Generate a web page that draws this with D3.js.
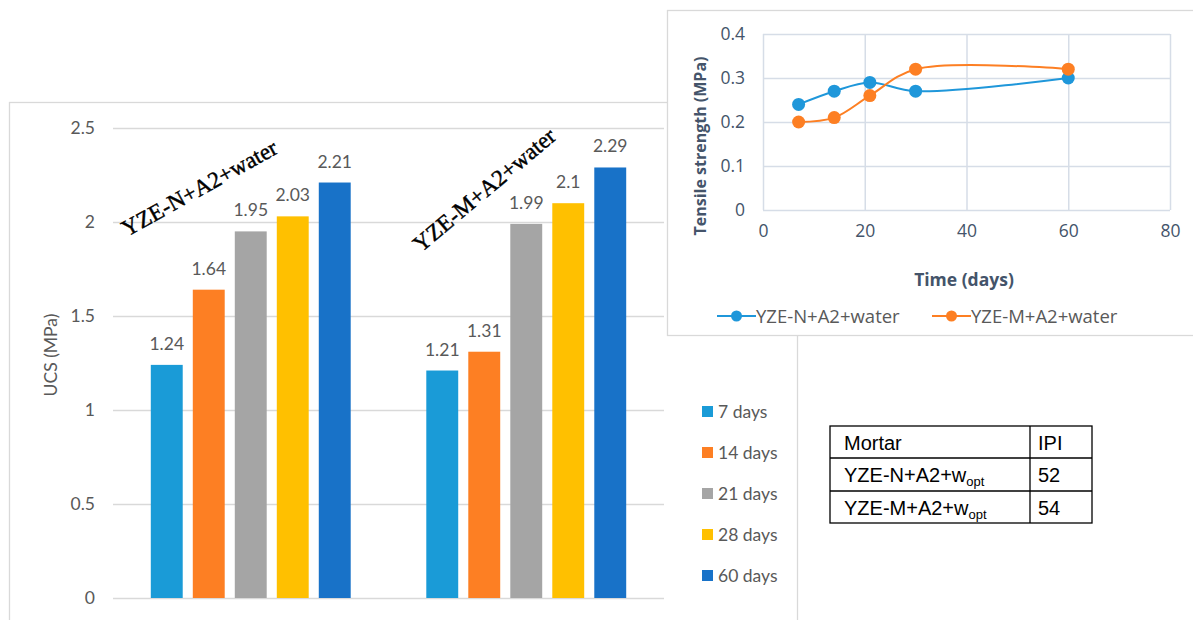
<!DOCTYPE html>
<html><head><meta charset="utf-8">
<script src="https://cdn.jsdelivr.net/npm/d3@7"></script>
<style>
html,body{margin:0;padding:0;background:#fff;overflow:hidden;}
svg{display:block;}
</style></head>
<body>
<svg id="c" width="1193" height="620"></svg>
<script>
// ---------- data ----------
const groups = ["YZE-N+A2+water", "YZE-M+A2+water"];
const ages = ["7 days", "14 days", "21 days", "28 days", "60 days"];
const ucsN = [1.24, 1.64, 1.95, 2.03, 2.21];
const ucsM = [1.21, 1.31, 1.99, 2.1, 2.29];
const ucsTicks = [0, 0.5, 1, 1.5, 2, 2.5];
const ageColors = ["#1a9bd7", "#fd7f23", "#a5a5a5", "#ffc000", "#1872c8"];

const tensileDays = [7, 14, 21, 30, 60];
const tensileN = [0.24, 0.27, 0.29, 0.27, 0.30];
const tensileM = [0.20, 0.21, 0.26, 0.32, 0.32];
const tensileYTicks = [0, 0.1, 0.2, 0.3, 0.4];
const tensileXTicks = [0, 20, 40, 60, 80];
const lineNames = ["YZE-N+A2+water", "YZE-M+A2+water"];
const lineColors = ["#1f97da", "#fd7f23"];

const tableHead = ["Mortar", "IPI"];
const tableMortar = ["YZE-N+A2+w", "YZE-M+A2+w"];
const tableSub = ["opt", "opt"];
const tableIPI = [52, 54];

// ---------- main bar chart ----------
const svg = d3.select("#c");
const main = svg.append("g");

main.append("rect").attr("x", 9.5).attr("y", 102.5).attr("width", 788).attr("height", 540)
  .attr("fill", "#fff").attr("stroke", "#d9d9d9").attr("stroke-width", 1.3);

const y = d3.scaleLinear().domain([0, 2.5]).range([598, 128]);
const x0 = d3.scaleBand().domain(groups).range([113, 664]);
const x1 = d3.scaleBand().domain(ages).range([0, x0.bandwidth()]).paddingInner(0.24).paddingOuter(0.9);

const yAxis = d3.axisLeft(y).tickValues(ucsTicks).tickSize(-(664 - 113)).tickPadding(18)
  .tickFormat(d => String(d));
const gy = main.append("g").attr("transform", "translate(113,0)").call(yAxis);
gy.select(".domain").remove();
gy.selectAll(".tick line").attr("stroke", "#d9d9d9").attr("stroke-width", 1.5);
gy.selectAll(".tick text").attr("fill", "#595959").attr("font-family", "Lato, sans-serif").attr("font-size", 17.5);

main.append("text").attr("transform", "translate(57,355) rotate(-90)").attr("text-anchor", "middle")
  .attr("fill", "#595959").attr("font-family", "Lato, sans-serif").attr("font-size", 17.5).text("UCS (MPa)");

const seriesByGroup = [ucsN, ucsM];
groups.forEach((g, gi) => {
  const gg = main.append("g").attr("transform", `translate(${x0(g)},0)`);
  gg.selectAll("rect").data(seriesByGroup[gi]).join("rect")
    .attr("x", (d, i) => x1(ages[i])).attr("width", x1.bandwidth())
    .attr("y", d => y(d)).attr("height", d => y(0) - y(d))
    .attr("fill", (d, i) => ageColors[i]);
  gg.selectAll("text.v").data(seriesByGroup[gi]).join("text").attr("class", "v")
    .attr("x", (d, i) => x1(ages[i]) + x1.bandwidth() / 2).attr("y", d => y(d) - 15)
    .attr("text-anchor", "middle").attr("fill", "#595959").attr("font-family", "Lato, sans-serif")
    .attr("font-size", 17.5).text(d => String(d));
});

// rotated group annotations
const annPos = [[127, 237, -29], [421, 253, -40]];
groups.forEach((g, gi) => {
  main.append("text").attr("transform", `translate(${annPos[gi][0]},${annPos[gi][1]}) rotate(${annPos[gi][2]})`)
    .attr("font-family", "'Liberation Serif', 'Times New Roman', serif").attr("font-size", 23)
    .attr("fill", "#000").attr("stroke", "#000").attr("stroke-width", 0.45).text(g);
});

// legend
const leg = main.append("g");
ages.forEach((a, i) => {
  const ly = 412 + i * 41;
  leg.append("rect").attr("x", 702).attr("y", ly - 6).attr("width", 11).attr("height", 11).attr("fill", ageColors[i]);
  leg.append("text").attr("x", 718).attr("y", ly + 6).attr("fill", "#595959")
    .attr("font-family", "Lato, sans-serif").attr("font-size", 17.5).text(a);
});

// ---------- inset line chart ----------
const ins = svg.append("g");
ins.append("rect").attr("x", 667.5).attr("y", 10.5).attr("width", 540).attr("height", 325)
  .attr("fill", "#fff").attr("stroke", "#d9d9d9").attr("stroke-width", 1.3);

const tx = d3.scaleLinear().domain([0, 80]).range([763, 1170]);
const ty = d3.scaleLinear().domain([0, 0.4]).range([210, 34]);
const gridCol = "#d6dde7";
const insFont = "'Open Sans', sans-serif";

const gtx = ins.append("g").attr("transform", "translate(0,210)")
  .call(d3.axisBottom(tx).tickValues(tensileXTicks).tickSize(-(210 - 34)).tickPadding(15).tickFormat(d => String(d)));
gtx.select(".domain").remove();
gtx.selectAll(".tick line").attr("stroke", gridCol).attr("stroke-width", 1.5);
gtx.selectAll(".tick text").attr("fill", "#44546a").attr("font-family", insFont).attr("font-size", 17.5);

const gty = ins.append("g").attr("transform", "translate(763,0)")
  .call(d3.axisLeft(ty).tickValues(tensileYTicks).tickSize(-(1170 - 763)).tickPadding(18).tickFormat(d => String(d)));
gty.select(".domain").remove();
gty.selectAll(".tick line").attr("stroke", gridCol).attr("stroke-width", 1.5);
gty.selectAll(".tick text").attr("fill", "#44546a").attr("font-family", insFont).attr("font-size", 17.5);

ins.append("text").attr("transform", "translate(706,146) rotate(-90)").attr("text-anchor", "middle")
  .attr("fill", "#44546a").attr("font-family", insFont).attr("font-weight", "bold")
  .attr("font-size", 16).text("Tensile strength (MPa)");
ins.append("text").attr("x", 964).attr("y", 286).attr("text-anchor", "middle")
  .attr("fill", "#44546a").attr("font-family", insFont).attr("font-weight", "bold")
  .attr("font-size", 17.5).text("Time (days)");

const lineGen = d3.line().x(d => tx(d[0])).y(d => ty(d[1])).curve(d3.curveCatmullRom.alpha(0.5));
[tensileN, tensileM].forEach((vals, si) => {
  const pts = tensileDays.map((d, i) => [d, vals[i]]);
  ins.append("path").attr("d", lineGen(pts)).attr("fill", "none")
    .attr("stroke", lineColors[si]).attr("stroke-width", 2);
  ins.selectAll(null).data(pts).join("circle")
    .attr("cx", d => tx(d[0])).attr("cy", d => ty(d[1])).attr("r", 6.5).attr("fill", lineColors[si]);
});

// inset legend
const legX = [717, 932];
lineNames.forEach((n, i) => {
  ins.append("line").attr("x1", legX[i]).attr("x2", legX[i] + 39).attr("y1", 316).attr("y2", 316)
    .attr("stroke", lineColors[i]).attr("stroke-width", 2);
  ins.append("circle").attr("cx", legX[i] + 19.5).attr("cy", 316).attr("r", 5.5).attr("fill", lineColors[i]);
  ins.append("text").attr("x", legX[i] + 39).attr("y", 323).attr("fill", "#595959")
    .attr("font-family", insFont).attr("font-size", 18.5).text(n);
});

// ---------- IPI table ----------
const tbl = svg.append("g");
const colX = [830, 1030, 1092];
const rowY = [426, 458, 491, 523];
tbl.append("rect").attr("x", colX[0]).attr("y", rowY[0]).attr("width", colX[2] - colX[0]).attr("height", rowY[3] - rowY[0])
  .attr("fill", "none").attr("stroke", "#000").attr("stroke-width", 1.3);
tbl.append("line").attr("x1", colX[1]).attr("x2", colX[1]).attr("y1", rowY[0]).attr("y2", rowY[3]).attr("stroke", "#000").attr("stroke-width", 1.3);
[1, 2].forEach(r => tbl.append("line").attr("x1", colX[0]).attr("x2", colX[2]).attr("y1", rowY[r]).attr("y2", rowY[r]).attr("stroke", "#000").attr("stroke-width", 1.3));
const tf = "'Liberation Sans', Arial, sans-serif";
tbl.append("text").attr("x", colX[0] + 14).attr("y", rowY[0] + 24).attr("font-family", tf).attr("font-size", 20).text(tableHead[0]);
tbl.append("text").attr("x", colX[1] + 8).attr("y", rowY[0] + 24).attr("font-family", tf).attr("font-size", 20).text(tableHead[1]);
tableMortar.forEach((m, i) => {
  const t = tbl.append("text").attr("x", colX[0] + 14).attr("y", rowY[i + 1] + 24).attr("font-family", tf).attr("font-size", 20);
  t.append("tspan").text(m);
  t.append("tspan").attr("font-size", 13).attr("dy", 4).text(tableSub[i]);
  tbl.append("text").attr("x", colX[1] + 8).attr("y", rowY[i + 1] + 24).attr("font-family", tf).attr("font-size", 20).text(tableIPI[i]);
});
</script>
</body></html>
